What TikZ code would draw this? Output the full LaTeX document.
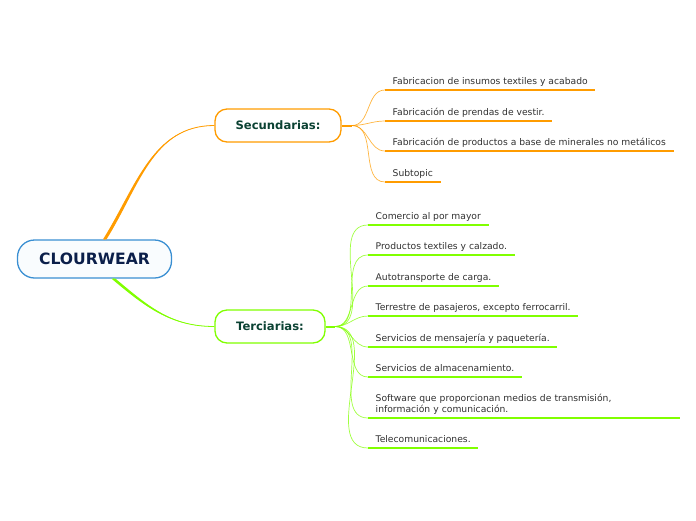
\documentclass[tikz,border=0pt]{standalone}
\usepackage{fontspec}
\setmainfont{DejaVu Sans}
\definecolor{orng}{HTML}{FF9C00}
\definecolor{lime}{HTML}{80FF00}
\definecolor{bord}{HTML}{3A8FD2}
\definecolor{navy}{HTML}{0B1F4A}
\definecolor{dgreen}{HTML}{0B4233}
\definecolor{leaftxt}{HTML}{303030}

\begin{document}
\begin{tikzpicture}[x=1pt,y=-1pt,
  topic/.style={draw,line width=1.3pt,rounded corners=12pt,fill=white,
    font=\bfseries\fontsize{11.6}{13}\selectfont,text=dgreen,minimum height=33pt,inner sep=0pt},
  leaf/.style={anchor=south west,inner xsep=7.5pt,inner ysep=3.5pt,align=left,text depth=2.2pt,
    font=\fontsize{9.2}{11}\selectfont,text=leaftxt},
  uline/.style={line width=2.4pt},
  twig/.style={line width=0.7pt,opacity=0.75}]
\useasboundingbox (0,0) rectangle (696,520);
% central topic
\node[draw=bord,line width=1.3pt,rounded corners=17pt,fill=bord!3,minimum width=154pt,
  minimum height=38pt,font=\bfseries\fontsize{15.6}{17}\selectfont,text=navy] (main) at (94.5,259) {CLOURWEAR};
\node[topic,draw=orng,minimum width=126pt] (sec) at (278,125.5) {Secundarias:};
\node[topic,draw=lime,minimum width=110pt] (ter) at (270,326.5) {Terciarias:};
% main branches
\fill[orng] ([xshift=8.5]main.north) to[out=58,in=180] (sec.west) to[out=180,in=58] ([xshift=12]main.north) -- cycle;
\draw[orng,line width=0.8pt] ([xshift=10]main.north) to[out=58,in=180] (sec.west);
\fill[lime] ([xshift=17]main.south) to[out=-40,in=180] (ter.west) to[out=180,in=-40] ([xshift=21]main.south) -- cycle;
\draw[lime,line width=0.8pt] ([xshift=19]main.south) to[out=-40,in=180] (ter.west);
% secundarias leaves
\coordinate (shub) at (352,125.5);
\draw[orng,line width=2pt] (sec.east) -- (shub);
\node[leaf] (s1) at (385,90) {Fabricacion de insumos textiles y acabado};
\node[leaf] (s2) at (385,121) {Fabricación de prendas de vestir.};
\node[leaf] (s3) at (385,151) {Fabricación de productos a base de minerales no metálicos};
\node[leaf] (s4) at (385,182) {Subtopic};
\foreach \n in {s1,s2,s3,s4}{
  \draw[orng,uline] (\n.south west) -- (\n.south east);
  \draw[orng,twig] (shub) to[out=0,in=180] (\n.south west);
}
% terciarias leaves
\coordinate (thub) at (335,326.5);
\draw[lime,line width=2pt] (ter.east) -- (thub);
\node[leaf] (t1) at (368,225) {Comercio al por mayor};
\node[leaf] (t2) at (368,255) {Productos textiles y calzado.};
\node[leaf] (t3) at (368,286) {Autotransporte de carga.};
\node[leaf] (t4) at (368,316) {Terrestre de pasajeros, excepto ferrocarril.};
\node[leaf] (t5) at (368,347) {Servicios de mensajería y paquetería.};
\node[leaf] (t6) at (368,377) {Servicios de almacenamiento.};
\node[leaf,text width=297pt,text depth=13.2pt] (t7) at (368,418) {Software que proporcionan medios de transmisión,\\información y comunicación.};
\node[leaf] (t8) at (368,448) {Telecomunicaciones.};
\foreach \n in {t1,t2,t3,t4,t5,t6,t7,t8}{
  \draw[lime,uline] (\n.south west) -- (\n.south east);
  \draw[lime,twig] (thub) to[out=0,in=180] (\n.south west);
}
\end{tikzpicture}
\end{document}
